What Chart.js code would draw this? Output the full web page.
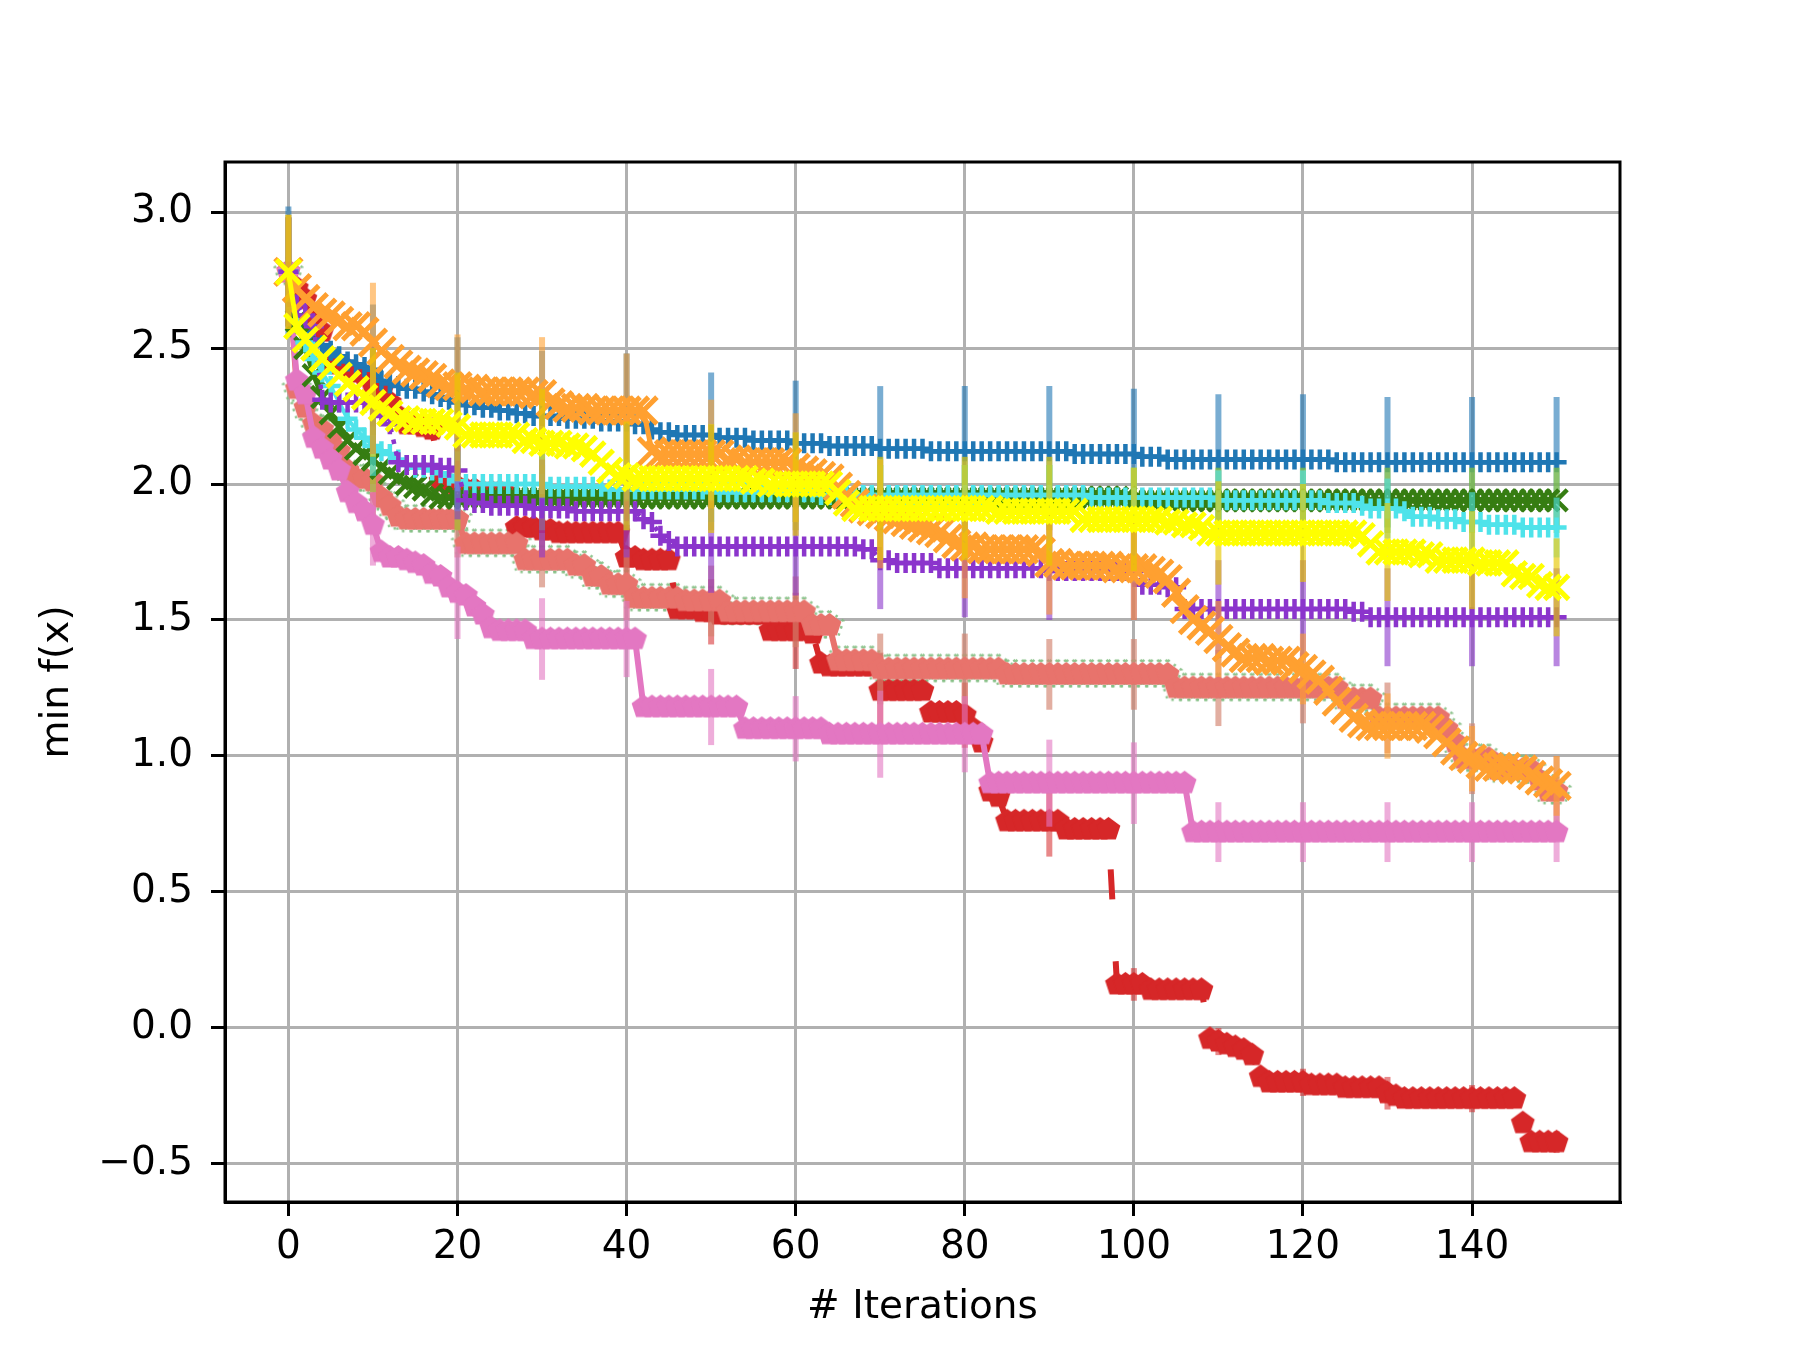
<!DOCTYPE html>
<html>
<head>
<meta charset="utf-8">
<script src="https://cdn.jsdelivr.net/npm/chart.js@4.4.1/dist/chart.umd.min.js"></script>
<style>
  html, body { margin: 0; padding: 0; background: #fff; }
</style>
</head>
<body>
<canvas id="chart" width="1800" height="1350"></canvas>
<script>
// iterations 0..150, error bars every 10 iterations
const iters = Array.from({ length: 151 }, (_, i) => i);
const errIters = [0, 10, 20, 30, 40, 50, 60, 70, 80, 90, 100, 110, 120, 130, 140, 150];
const xTicks = [0, 20, 40, 60, 80, 100, 120, 140];
const yTicks = [-0.5, 0.0, 0.5, 1.0, 1.5, 2.0, 2.5, 3.0];

const blueVals = [
  2.78, 2.62, 2.56, 2.53, 2.51, 2.49, 2.47, 2.45, 2.44, 2.43,
  2.42, 2.38, 2.37, 2.36, 2.35, 2.35, 2.34, 2.33, 2.32, 2.31,
  2.30, 2.29, 2.29, 2.28, 2.28, 2.27, 2.27, 2.26, 2.26, 2.25,
  2.25, 2.25, 2.25, 2.24, 2.24, 2.24, 2.24, 2.23, 2.23, 2.23,
  2.23, 2.22, 2.22, 2.20, 2.19, 2.19, 2.18, 2.18, 2.18, 2.18,
  2.18, 2.17, 2.17, 2.17, 2.17, 2.16, 2.16, 2.16, 2.16, 2.16,
  2.15, 2.15, 2.15, 2.15, 2.14, 2.14, 2.14, 2.14, 2.14, 2.14,
  2.13, 2.13, 2.13, 2.13, 2.13, 2.13, 2.12, 2.12, 2.12, 2.12,
  2.12, 2.12, 2.12, 2.12, 2.12, 2.12, 2.12, 2.12, 2.12, 2.12,
  2.12, 2.12, 2.12, 2.11, 2.11, 2.11, 2.11, 2.11, 2.11, 2.11,
  2.11, 2.10, 2.10, 2.10, 2.09, 2.09, 2.09, 2.09, 2.09, 2.09,
  2.09, 2.09, 2.09, 2.09, 2.09, 2.09, 2.09, 2.09, 2.09, 2.09,
  2.09, 2.09, 2.09, 2.09, 2.08, 2.08, 2.08, 2.08, 2.08, 2.08,
  2.08, 2.08, 2.08, 2.08, 2.08, 2.08, 2.08, 2.08, 2.08, 2.08,
  2.08, 2.08, 2.08, 2.08, 2.08, 2.08, 2.08, 2.08, 2.08, 2.08,
  2.08
];
const greenVals = [
  2.78, 2.60, 2.50, 2.40, 2.32, 2.26, 2.21, 2.16, 2.13, 2.11,
  2.09, 2.06, 2.04, 2.02, 2.00, 1.99, 1.98, 1.96, 1.95, 1.95,
  1.95, 1.95, 1.95, 1.95, 1.95, 1.95, 1.95, 1.95, 1.95, 1.95,
  1.95, 1.95, 1.95, 1.95, 1.95, 1.95, 1.95, 1.95, 1.95, 1.95,
  1.95, 1.95, 1.95, 1.95, 1.95, 1.95, 1.95, 1.95, 1.95, 1.95,
  1.95, 1.95, 1.95, 1.95, 1.95, 1.95, 1.95, 1.95, 1.95, 1.95,
  1.95, 1.95, 1.95, 1.95, 1.95, 1.95, 1.95, 1.95, 1.95, 1.95,
  1.95, 1.95, 1.95, 1.95, 1.95, 1.95, 1.95, 1.95, 1.95, 1.95,
  1.95, 1.95, 1.95, 1.95, 1.95, 1.95, 1.95, 1.95, 1.95, 1.95,
  1.95, 1.95, 1.95, 1.95, 1.95, 1.95, 1.95, 1.95, 1.95, 1.95,
  1.94, 1.94, 1.94, 1.94, 1.94, 1.94, 1.94, 1.94, 1.94, 1.94,
  1.94, 1.94, 1.94, 1.94, 1.94, 1.94, 1.94, 1.94, 1.94, 1.94,
  1.94, 1.94, 1.94, 1.94, 1.94, 1.94, 1.94, 1.94, 1.94, 1.94,
  1.94, 1.94, 1.94, 1.94, 1.94, 1.94, 1.94, 1.94, 1.94, 1.94,
  1.94, 1.94, 1.94, 1.94, 1.94, 1.94, 1.94, 1.94, 1.94, 1.94,
  1.94
];
const cyanVals = [
  2.78, 2.60, 2.52, 2.46, 2.41, 2.36, 2.30, 2.24, 2.20, 2.17,
  2.14, 2.12, 2.11, 2.09, 2.07, 2.06, 2.06, 2.05, 2.04, 2.03,
  2.01, 2.00, 2.00, 2.00, 2.00, 2.00, 2.00, 2.00, 2.00, 2.00,
  2.00, 1.99, 1.99, 1.99, 1.99, 1.99, 1.99, 1.99, 1.98, 1.98,
  1.98, 1.98, 1.98, 1.98, 1.98, 1.98, 1.98, 1.98, 1.98, 1.98,
  1.97, 1.97, 1.97, 1.97, 1.97, 1.97, 1.97, 1.97, 1.97, 1.97,
  1.97, 1.97, 1.97, 1.96, 1.96, 1.96, 1.96, 1.96, 1.96, 1.96,
  1.96, 1.96, 1.96, 1.96, 1.96, 1.96, 1.96, 1.96, 1.96, 1.96,
  1.96, 1.96, 1.96, 1.96, 1.96, 1.96, 1.96, 1.96, 1.96, 1.96,
  1.96, 1.96, 1.96, 1.96, 1.96, 1.95, 1.95, 1.95, 1.95, 1.95,
  1.95, 1.95, 1.95, 1.95, 1.95, 1.95, 1.95, 1.95, 1.95, 1.95,
  1.94, 1.94, 1.94, 1.94, 1.94, 1.94, 1.94, 1.94, 1.94, 1.94,
  1.94, 1.94, 1.94, 1.93, 1.93, 1.93, 1.93, 1.92, 1.91, 1.91,
  1.91, 1.91, 1.90, 1.88, 1.88, 1.88, 1.87, 1.87, 1.87, 1.86,
  1.86, 1.86, 1.85, 1.85, 1.85, 1.85, 1.84, 1.84, 1.84, 1.84,
  1.84
];
const yellowVals = [
  2.78, 2.58, 2.53, 2.50, 2.46, 2.43, 2.40, 2.37, 2.35, 2.32,
  2.30, 2.28, 2.26, 2.24, 2.24, 2.23, 2.23, 2.23, 2.23, 2.22,
  2.21, 2.18, 2.18, 2.18, 2.18, 2.18, 2.18, 2.18, 2.16, 2.16,
  2.15, 2.15, 2.15, 2.14, 2.14, 2.13, 2.11, 2.08, 2.05, 2.03,
  2.03, 2.02, 2.02, 2.02, 2.02, 2.02, 2.02, 2.02, 2.02, 2.02,
  2.02, 2.02, 2.02, 2.02, 2.02, 2.01, 2.01, 2.00, 2.00, 2.00,
  2.00, 2.00, 2.00, 2.00, 2.00, 1.97, 1.93, 1.91, 1.91, 1.91,
  1.91, 1.91, 1.91, 1.91, 1.91, 1.91, 1.91, 1.91, 1.91, 1.91,
  1.91, 1.91, 1.91, 1.91, 1.90, 1.90, 1.90, 1.90, 1.90, 1.90,
  1.90, 1.90, 1.90, 1.90, 1.87, 1.87, 1.87, 1.87, 1.87, 1.87,
  1.87, 1.87, 1.87, 1.87, 1.86, 1.86, 1.85, 1.85, 1.84, 1.82,
  1.82, 1.82, 1.82, 1.82, 1.82, 1.82, 1.82, 1.82, 1.82, 1.82,
  1.82, 1.82, 1.82, 1.82, 1.82, 1.82, 1.82, 1.81, 1.78, 1.75,
  1.75, 1.75, 1.75, 1.75, 1.74, 1.74, 1.72, 1.72, 1.72, 1.72,
  1.72, 1.71, 1.71, 1.71, 1.71, 1.67, 1.66, 1.66, 1.63, 1.62,
  1.62
];
const purpleVals = [
  2.78, 2.66, 2.62, 2.58, 2.31, 2.30, 2.30, 2.30, 2.30, 2.30,
  2.29, 2.25, 2.22, 2.08, 2.07, 2.07, 2.07, 2.07, 2.06, 2.06,
  2.05, 1.94, 1.93, 1.93, 1.92, 1.92, 1.92, 1.92, 1.92, 1.91,
  1.91, 1.91, 1.91, 1.91, 1.90, 1.90, 1.90, 1.90, 1.90, 1.90,
  1.90, 1.90, 1.87, 1.86, 1.81, 1.79, 1.77, 1.77, 1.77, 1.77,
  1.77, 1.77, 1.77, 1.77, 1.77, 1.77, 1.77, 1.77, 1.77, 1.77,
  1.77, 1.77, 1.77, 1.77, 1.77, 1.77, 1.77, 1.77, 1.76, 1.76,
  1.72, 1.72, 1.71, 1.71, 1.71, 1.71, 1.71, 1.69, 1.69, 1.69,
  1.69, 1.69, 1.69, 1.69, 1.69, 1.69, 1.69, 1.69, 1.69, 1.69,
  1.68, 1.68, 1.68, 1.68, 1.68, 1.68, 1.68, 1.68, 1.68, 1.68,
  1.68, 1.63, 1.63, 1.63, 1.62, 1.62, 1.54, 1.54, 1.54, 1.54,
  1.54, 1.54, 1.54, 1.54, 1.54, 1.54, 1.54, 1.54, 1.54, 1.54,
  1.54, 1.54, 1.54, 1.54, 1.54, 1.54, 1.53, 1.53, 1.51, 1.51,
  1.51, 1.51, 1.51, 1.51, 1.51, 1.51, 1.51, 1.51, 1.51, 1.51,
  1.51, 1.51, 1.51, 1.51, 1.51, 1.51, 1.51, 1.51, 1.51, 1.51,
  1.51
];
const orangeVals = [
  2.78, 2.72, 2.68, 2.65, 2.63, 2.62, 2.60, 2.58, 2.58, 2.56,
  2.52, 2.49, 2.46, 2.44, 2.42, 2.41, 2.40, 2.39, 2.37, 2.36,
  2.36, 2.35, 2.35, 2.34, 2.34, 2.34, 2.34, 2.34, 2.34, 2.33,
  2.33, 2.30, 2.29, 2.28, 2.28, 2.28, 2.27, 2.27, 2.27, 2.27,
  2.27, 2.27, 2.27, 2.12, 2.11, 2.11, 2.11, 2.11, 2.11, 2.11,
  2.11, 2.11, 2.09, 2.09, 2.08, 2.08, 2.08, 2.08, 2.08, 2.08,
  2.06, 2.05, 2.04, 2.03, 2.02, 1.99, 1.96, 1.93, 1.91, 1.90,
  1.89, 1.88, 1.87, 1.86, 1.85, 1.84, 1.83, 1.82, 1.80, 1.78,
  1.77, 1.77, 1.76, 1.76, 1.76, 1.76, 1.76, 1.76, 1.76, 1.75,
  1.71, 1.71, 1.70, 1.70, 1.70, 1.70, 1.70, 1.70, 1.69, 1.69,
  1.69, 1.69, 1.68, 1.67, 1.65, 1.60, 1.54, 1.50, 1.48, 1.46,
  1.43, 1.40, 1.38, 1.36, 1.36, 1.36, 1.35, 1.35, 1.35, 1.33,
  1.32, 1.30, 1.28, 1.24, 1.20, 1.17, 1.14, 1.12, 1.11, 1.11,
  1.11, 1.11, 1.11, 1.11, 1.11, 1.10, 1.08, 1.05, 1.02, 1.00,
  0.99, 0.97, 0.96, 0.96, 0.96, 0.95, 0.95, 0.93, 0.91, 0.90,
  0.89
];
const redVals = [
  2.78, 2.72, 2.68, 2.60, 2.56, 2.45, 2.44, 2.42, 2.41, 2.40,
  2.36, 2.34, 2.30, 2.25, 2.22, 2.22, 2.21, 2.20, 2.01, 2.00,
  1.99, 1.98, 1.98, 1.97, 1.97, 1.97, 1.96, 1.84, 1.84, 1.84,
  1.83, 1.83, 1.82, 1.82, 1.82, 1.82, 1.82, 1.82, 1.82, 1.82,
  1.73, 1.73, 1.72, 1.72, 1.72, 1.72, 1.54, 1.54, 1.54, 1.53,
  1.53, 1.52, 1.52, 1.52, 1.52, 1.52, 1.52, 1.46, 1.46, 1.46,
  1.46, 1.46, 1.45, 1.34, 1.33, 1.33, 1.33, 1.33, 1.33, 1.33,
  1.24, 1.24, 1.24, 1.24, 1.24, 1.24, 1.16, 1.16, 1.16, 1.16,
  1.15, 1.10, 1.05, 0.87, 0.85, 0.76, 0.76, 0.76, 0.76, 0.76,
  0.76, 0.76, 0.73, 0.73, 0.73, 0.73, 0.73, 0.73, 0.16, 0.16,
  0.16, 0.16, 0.14, 0.14, 0.14, 0.14, 0.14, 0.14, 0.14, -0.04,
  -0.05, -0.06, -0.07, -0.08, -0.10, -0.18, -0.20, -0.20, -0.20, -0.20,
  -0.20, -0.21, -0.21, -0.21, -0.21, -0.22, -0.22, -0.22, -0.22, -0.22,
  -0.24, -0.25, -0.26, -0.26, -0.26, -0.26, -0.26, -0.26, -0.26, -0.26,
  -0.26, -0.26, -0.26, -0.26, -0.26, -0.26, -0.35, -0.42, -0.42, -0.42,
  -0.42
];
const salmonVals = [
  2.78, 2.35, 2.28, 2.22, 2.20, 2.16, 2.12, 2.05, 2.02, 2.02,
  2.01, 1.95, 1.92, 1.88, 1.87, 1.87, 1.87, 1.87, 1.87, 1.87,
  1.87, 1.78, 1.78, 1.78, 1.78, 1.78, 1.78, 1.78, 1.72, 1.72,
  1.72, 1.72, 1.72, 1.72, 1.70, 1.70, 1.66, 1.66, 1.63, 1.63,
  1.63, 1.58, 1.58, 1.58, 1.58, 1.58, 1.58, 1.57, 1.57, 1.57,
  1.57, 1.57, 1.53, 1.53, 1.53, 1.53, 1.53, 1.53, 1.53, 1.53,
  1.53, 1.53, 1.48, 1.48, 1.48, 1.35, 1.35, 1.35, 1.35, 1.35,
  1.32, 1.32, 1.32, 1.32, 1.32, 1.32, 1.32, 1.32, 1.32, 1.32,
  1.32, 1.32, 1.32, 1.32, 1.32, 1.30, 1.30, 1.30, 1.30, 1.30,
  1.30, 1.30, 1.30, 1.30, 1.30, 1.30, 1.30, 1.30, 1.30, 1.30,
  1.30, 1.30, 1.30, 1.30, 1.30, 1.25, 1.25, 1.25, 1.25, 1.25,
  1.25, 1.25, 1.25, 1.25, 1.25, 1.25, 1.25, 1.25, 1.25, 1.25,
  1.25, 1.25, 1.25, 1.25, 1.25, 1.21, 1.21, 1.21, 1.21, 1.14,
  1.14, 1.14, 1.14, 1.14, 1.14, 1.14, 1.14, 1.10, 1.05, 0.99,
  0.99, 0.99, 0.99, 0.95, 0.95, 0.95, 0.95, 0.95, 0.91, 0.87,
  0.87
];
// faint green dotted companion run, sits under the salmon one
const sageVals = [
  2.78, 2.35, 2.28, 2.22, 2.20, 2.16, 2.12, 2.05, 2.02, 2.02,
  2.01, 1.95, 1.92, 1.88, 1.87, 1.87, 1.87, 1.87, 1.87, 1.87,
  1.87, 1.78, 1.78, 1.78, 1.78, 1.78, 1.78, 1.78, 1.72, 1.72,
  1.72, 1.72, 1.72, 1.72, 1.70, 1.70, 1.66, 1.66, 1.63, 1.63,
  1.63, 1.58, 1.58, 1.58, 1.58, 1.58, 1.58, 1.57, 1.57, 1.57,
  1.57, 1.57, 1.53, 1.53, 1.53, 1.53, 1.53, 1.53, 1.53, 1.53,
  1.53, 1.53, 1.48, 1.48, 1.48, 1.35, 1.35, 1.35, 1.35, 1.35,
  1.32, 1.32, 1.32, 1.32, 1.32, 1.32, 1.32, 1.32, 1.32, 1.32,
  1.32, 1.32, 1.32, 1.32, 1.32, 1.30, 1.30, 1.30, 1.30, 1.30,
  1.30, 1.30, 1.30, 1.30, 1.30, 1.30, 1.30, 1.30, 1.30, 1.30,
  1.30, 1.30, 1.30, 1.30, 1.30, 1.25, 1.25, 1.25, 1.25, 1.25,
  1.25, 1.25, 1.25, 1.25, 1.25, 1.25, 1.25, 1.25, 1.25, 1.25,
  1.25, 1.25, 1.25, 1.25, 1.25, 1.21, 1.21, 1.21, 1.21, 1.14,
  1.14, 1.14, 1.14, 1.14, 1.14, 1.14, 1.14, 1.10, 1.05, 0.99,
  0.99, 0.99, 0.99, 0.95, 0.95, 0.95, 0.95, 0.95, 0.91, 0.87,
  0.87
];
const pinkVals = [
  2.78, 2.38, 2.33, 2.17, 2.13, 2.09, 2.05, 1.97, 1.93, 1.90,
  1.85, 1.75, 1.73, 1.73, 1.72, 1.71, 1.70, 1.67, 1.66, 1.62,
  1.60, 1.59, 1.55, 1.52, 1.47, 1.46, 1.46, 1.46, 1.46, 1.43,
  1.43, 1.43, 1.43, 1.43, 1.43, 1.43, 1.43, 1.43, 1.43, 1.43,
  1.43, 1.43, 1.18, 1.18, 1.18, 1.18, 1.18, 1.18, 1.18, 1.18,
  1.18, 1.18, 1.18, 1.18, 1.10, 1.10, 1.10, 1.10, 1.10, 1.10,
  1.10, 1.10, 1.10, 1.10, 1.08, 1.08, 1.08, 1.08, 1.08, 1.08,
  1.08, 1.08, 1.08, 1.08, 1.08, 1.08, 1.08, 1.08, 1.08, 1.08,
  1.08, 1.08, 1.08, 0.90, 0.90, 0.90, 0.90, 0.90, 0.90, 0.90,
  0.90, 0.90, 0.90, 0.90, 0.90, 0.90, 0.90, 0.90, 0.90, 0.90,
  0.90, 0.90, 0.90, 0.90, 0.90, 0.90, 0.90, 0.72, 0.72, 0.72,
  0.72, 0.72, 0.72, 0.72, 0.72, 0.72, 0.72, 0.72, 0.72, 0.72,
  0.72, 0.72, 0.72, 0.72, 0.72, 0.72, 0.72, 0.72, 0.72, 0.72,
  0.72, 0.72, 0.72, 0.72, 0.72, 0.72, 0.72, 0.72, 0.72, 0.72,
  0.72, 0.72, 0.72, 0.72, 0.72, 0.72, 0.72, 0.72, 0.72, 0.72,
  0.72
];

// half-heights of the error bars at errIters
const blueErr   = [0.24, 0.24, 0.24, 0.24, 0.25, 0.23, 0.23, 0.23, 0.24, 0.24, 0.24, 0.24, 0.24, 0.24, 0.24, 0.24];
const greenErr  = [0.20, 0.12, 0.12, 0.12, 0.12, 0.12, 0.12, 0.12, 0.12, 0.12, 0.12, 0.12, 0.12, 0.12, 0.12, 0.12];
const cyanErr   = [0.20, 0.11, 0.11, 0.11, 0.11, 0.11, 0.11, 0.11, 0.11, 0.11, 0.11, 0.11, 0.11, 0.11, 0.11, 0.11];
const yellowErr = [0.21, 0.20, 0.20, 0.20, 0.20, 0.20, 0.19, 0.19, 0.19, 0.20, 0.19, 0.19, 0.18, 0.18, 0.18, 0.18];
const purpleErr = [0.20, 0.18, 0.18, 0.18, 0.17, 0.17, 0.18, 0.18, 0.18, 0.18, 0.18, 0.18, 0.18, 0.18, 0.18, 0.18];
const orangeErr = [0.21, 0.22, 0.19, 0.21, 0.21, 0.20, 0.20, 0.20, 0.19, 0.19, 0.19, 0.14, 0.13, 0.12, 0.12, 0.11];
const redErr    = [0.20, 0.15, 0.15, 0.12, 0.12, 0.12, 0.14, 0.14, 0.12, 0.13, 0.06, 0.05, 0.05, 0.06, 0.05, 0.04];
const salmonErr = [0.20, 0.14, 0.14, 0.10, 0.13, 0.13, 0.13, 0.13, 0.13, 0.13, 0.13, 0.14, 0.13, 0.13, 0.13, 0.13];
const pinkErr   = [0.20, 0.15, 0.17, 0.15, 0.14, 0.14, 0.12, 0.16, 0.14, 0.16, 0.15, 0.11, 0.11, 0.11, 0.11, 0.11];

Chart.defaults.font.family = "'DejaVu Sans', sans-serif";
Chart.defaults.color = '#000';

// matplotlib 'p' marker as an image
function pentagon(color, r, dotted) {
  const c = document.createElement('canvas');
  const s = Math.ceil(2 * r + 6);
  c.width = s; c.height = s;
  const g = c.getContext('2d');
  g.beginPath();
  for (let k = 0; k < 5; k++) {
    const a = -Math.PI / 2 + k * 2 * Math.PI / 5;
    const px = s / 2 + r * Math.cos(a), py = s / 2 + r * Math.sin(a);
    if (k === 0) g.moveTo(px, py); else g.lineTo(px, py);
  }
  g.closePath();
  if (dotted) {
    g.setLineDash([2.5, 5]);
    g.lineWidth = 2.5;
    g.strokeStyle = color;
    g.stroke();
  } else {
    g.fillStyle = color;
    g.fill();
  }
  return c;
}

function series(vals, color, opts) {
  return Object.assign({
    data: vals.map((v, i) => ({ x: iters[i], y: v })),
    borderColor: color,
    backgroundColor: color,
    pointBorderColor: color,
    pointBackgroundColor: color,
    borderJoinStyle: 'round',
    tension: 0,
    fill: false
  }, opts);
}

const errorBars = {
  id: 'errorBars',
  beforeDatasetDraw(chart, args) {
    const ds = chart.data.datasets[args.index];
    if (!ds.errVals) return;
    const xs = chart.scales.x, ys = chart.scales.y, ctx = chart.ctx, a = chart.chartArea;
    ctx.save();
    ctx.beginPath();
    ctx.rect(a.left, a.top, a.right - a.left, a.bottom - a.top);
    ctx.clip();
    ctx.strokeStyle = ds.errColor;
    ctx.lineWidth = 6;
    ctx.lineCap = 'butt';
    errIters.forEach((it, k) => {
      const v = ds.data[it].y, e = ds.errVals[k];
      const px = xs.getPixelForValue(it);
      ctx.beginPath();
      ctx.moveTo(px, ys.getPixelForValue(v - e));
      ctx.lineTo(px, ys.getPixelForValue(v + e));
      ctx.stroke();
    });
    ctx.restore();
  }
};

const frame = {
  id: 'frame',
  afterDatasetsDraw(chart) {
    const a = chart.chartArea, ctx = chart.ctx;
    ctx.save();
    ctx.strokeStyle = '#000';
    ctx.lineWidth = 3;
    ctx.strokeRect(a.left, a.top, a.right - a.left, a.bottom - a.top);
    ctx.restore();
  }
};

// first dataset is drawn on top
const datasets = [
  series(yellowVals, '#ffff00', { pointStyle: 'crossRot', pointRadius: 17, pointBorderWidth: 5, borderWidth: 5,
    errVals: yellowErr, errColor: 'rgba(230,200,0,0.65)' }),
  series(orangeVals, '#ffa030', { pointStyle: 'crossRot', pointRadius: 19, pointBorderWidth: 5, borderWidth: 5,
    errVals: orangeErr, errColor: 'rgba(255,160,48,0.6)' }),
  series(purpleVals, '#8b35cc', { pointStyle: 'cross', pointRadius: 10, pointBorderWidth: 4.5, borderWidth: 4.5,
    borderDash: [4.5, 7.5], errVals: purpleErr, errColor: 'rgba(139,53,204,0.6)' }),
  series(cyanVals, '#4fe3ea', { pointStyle: 'cross', pointRadius: 10, pointBorderWidth: 4.5, borderWidth: 4,
    errVals: cyanErr, errColor: 'rgba(79,227,234,0.6)' }),
  series(greenVals, '#367d12', { pointStyle: 'crossRot', pointRadius: 15, pointBorderWidth: 4.5, borderWidth: 5,
    errVals: greenErr, errColor: 'rgba(150,210,40,0.6)' }),
  series(blueVals, '#1f77b4', { pointStyle: 'cross', pointRadius: 10, pointBorderWidth: 4.5, borderWidth: 4.5,
    errVals: blueErr, errColor: 'rgba(31,119,180,0.6)' }),
  series(pinkVals, '#e377c2', { pointStyle: pentagon('#e377c2', 12.5), pointRadius: 12, borderWidth: 6,
    errVals: pinkErr, errColor: 'rgba(227,119,194,0.6)' }),
  series(salmonVals, '#e8736c', { pointStyle: pentagon('#e8736c', 12.5), pointRadius: 12, borderWidth: 6,
    errVals: salmonErr, errColor: 'rgba(210,130,110,0.65)' }),
  series(redVals, '#d62728', { pointStyle: pentagon('#d62728', 12.5), pointRadius: 12, borderWidth: 6,
    borderDash: [30, 62], borderDashOffset: 66, errVals: redErr, errColor: 'rgba(214,39,40,0.55)' }),
  series(sageVals, 'rgba(130,190,130,0.8)', { pointStyle: pentagon('rgba(130,190,130,0.9)', 14.5, true), pointRadius: 12,
    borderWidth: 3, borderDash: [3, 6] })
];

new Chart(document.getElementById('chart'), {
  type: 'line',
  data: { datasets: datasets },
  options: {
    responsive: false,
    devicePixelRatio: 1,
    animation: false,
    events: [],
    layout: { padding: { left: 0, right: 180, top: 162, bottom: 0 } },
    plugins: { legend: { display: false }, tooltip: { enabled: false } },
    scales: {
      x: {
        type: 'linear',
        min: -7.5,
        max: 157.5,
        afterBuildTicks: s => { s.ticks = xTicks.map(v => ({ value: v })); },
        afterFit: s => { s.height = 148; },
        grid: { color: '#b0b0b0', lineWidth: 3, tickColor: '#000', tickWidth: 3, tickLength: 14 },
        border: { color: '#000', width: 3 },
        ticks: { color: '#000', font: { size: 39 }, padding: 8, maxRotation: 0, autoSkip: false,
          callback: v => String(v) },
        title: { display: true, text: '# Iterations', color: '#000', font: { size: 39 },
          padding: { top: 0, bottom: 19 } }
      },
      y: {
        type: 'linear',
        min: -0.64,
        max: 3.184,
        afterBuildTicks: s => { s.ticks = yTicks.map(v => ({ value: v })); },
        afterFit: s => { s.width = 225; },
        grid: { color: '#b0b0b0', lineWidth: 3, tickColor: '#000', tickWidth: 3, tickLength: 14 },
        border: { color: '#000', width: 3 },
        ticks: { color: '#000', font: { size: 39 }, padding: 18, autoSkip: false,
          callback: v => (v < 0 ? '\u2212' : '') + Math.abs(v).toFixed(1) },
        title: { display: true, text: 'min f(x)', color: '#000', font: { size: 39 },
          padding: { top: 34, bottom: 0 } }
      }
    }
  },
  plugins: [errorBars, frame]
});
</script>
</body>
</html>
